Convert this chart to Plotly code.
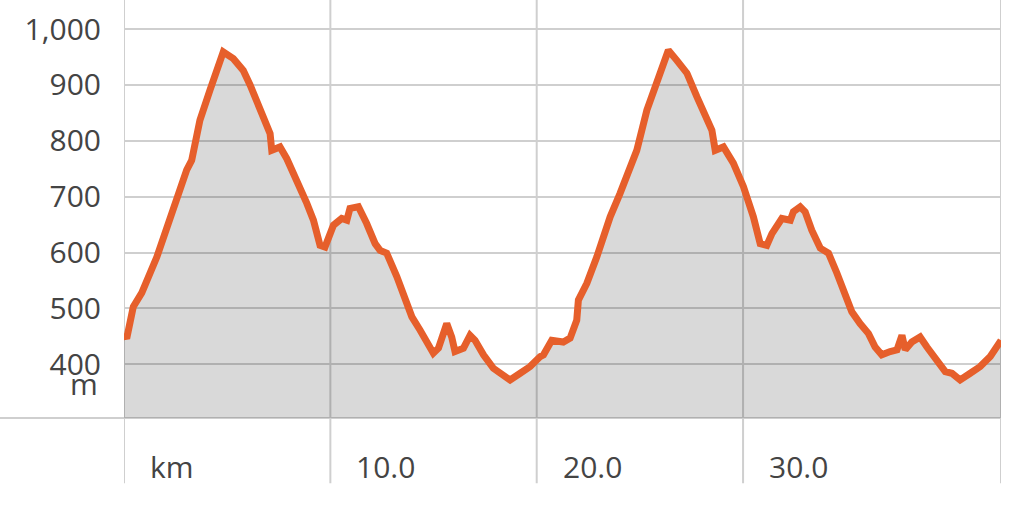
import plotly.graph_objects as go

# Elevation profile (distance in km, elevation in m)
distance_km = [0.0, 0.13, 0.45, 0.86, 1.59, 2.31, 3.04, 3.28, 3.68, 4.17,
               4.81, 5.30, 5.78, 6.11, 6.43, 6.75, 7.08, 7.16, 7.56, 7.89,
               8.37, 8.86, 9.18, 9.50, 9.74, 10.07, 10.15, 10.55, 10.80, 10.95,
               11.36, 11.76, 12.17, 12.41, 12.73, 13.22, 13.62, 13.95, 14.35, 14.67,
               14.99, 15.24, 15.64, 15.88, 16.04, 16.45, 16.77, 17.01, 17.42, 17.90,
               18.31, 18.71, 19.20, 19.68, 20.17, 20.33, 20.73, 21.29, 21.62, 21.94,
               22.02, 22.43, 22.91, 23.56, 24.04, 24.53, 24.85, 25.34, 25.98, 26.38,
               26.79, 27.28, 27.76, 28.08, 28.49, 28.65, 29.05, 29.53, 30.02, 30.50,
               30.83, 31.15, 31.40, 31.88, 32.29, 32.44, 32.77, 33.01, 33.33, 33.74,
               34.14, 34.55, 34.87, 35.27, 35.67, 36.08, 36.40, 36.72, 37.13, 37.46,
               37.70, 37.86, 38.18, 38.58, 38.91, 39.39, 39.80, 40.12, 40.52, 41.01,
               41.49, 41.98, 42.38, 42.5]
elevation_m = [455, 446, 503, 528, 592, 673, 748, 765, 837, 891,
               959, 947, 926, 900, 873, 846, 813, 783, 789, 768,
               730, 688, 658, 613, 610, 646, 649, 661, 658, 679,
               682, 652, 616, 604, 599, 557, 521, 485, 461, 443,
               420, 429, 473, 449, 423, 429, 452, 443, 417, 393,
               384, 372, 384, 396, 414, 417, 443, 440, 447, 479,
               515, 545, 592, 664, 706, 748, 783, 855, 921, 962,
               944, 921, 879, 855, 819, 783, 789, 760, 718, 664,
               616, 613, 634, 661, 658, 673, 682, 673, 640, 608,
               599, 563, 533, 494, 473, 455, 431, 417, 423, 426,
               452, 426, 440, 449, 431, 405, 387, 384, 372, 384,
               396, 414, 438, 443]

y_ticks = [400, 500, 600, 700, 800, 900, 1000]
y_tick_labels = ["400", "500", "600", "700", "800", "900", "1,000"]
x_grid = [0, 10, 20, 30, 42.5]
x_labels = [(0, "km"), (10, "10.0"), (20, "20.0"), (30, "30.0")]

FONT = "Open Sans"
TXT = "#444444"
GRID = "#cfcfcf"
FS = 30

fig = go.Figure()
fig.add_trace(go.Scatter(
    x=distance_km, y=elevation_m, mode="lines",
    line=dict(color="#e65f2b", width=7),
    fill="tozeroy", fillcolor="rgba(0,0,0,0.15)",
    hoverinfo="skip", showlegend=False,
))

shapes = []
for xv in x_grid:
    shapes.append(dict(type="line", xref="x", yref="paper", x0=xv, x1=xv,
                       y0=-0.156, y1=1, line=dict(color=GRID, width=2), layer="below"))
shapes.append(dict(type="line", xref="paper", yref="paper", x0=-0.1414, x1=1,
                   y0=0, y1=0, line=dict(color=GRID, width=2), layer="below"))

annotations = []
for xv, txt in x_labels:
    annotations.append(dict(x=xv, y=-0.117, xref="x", yref="paper", text=txt,
                            showarrow=False, xanchor="left", yanchor="middle",
                            xshift=24, font=dict(family=FONT, size=FS, color=TXT)))
annotations.append(dict(x=-0.0274, y=366, xref="paper", yref="y", text="m",
                        showarrow=False, xanchor="right", yanchor="middle",
                        font=dict(family=FONT, size=FS, color=TXT)))

fig.update_layout(
    width=1024, height=507,
    margin=dict(l=124, r=23, t=0, b=89),
    paper_bgcolor="white", plot_bgcolor="white",
    shapes=shapes, annotations=annotations,
    xaxis=dict(range=[0, 42.5], showgrid=False, zeroline=False,
               showticklabels=False, showline=False, fixedrange=True),
    yaxis=dict(range=[304, 1052], tickvals=y_ticks, ticktext=y_tick_labels,
               showgrid=True, gridcolor=GRID, gridwidth=2, zeroline=False,
               showline=False, ticks="", ticklabelstandoff=22,
               tickfont=dict(family=FONT, size=FS, color=TXT), fixedrange=True),
)

fig.write_html("out.html", config={"displayModeBar": False},
               post_script="document.body.style.margin='0';")
